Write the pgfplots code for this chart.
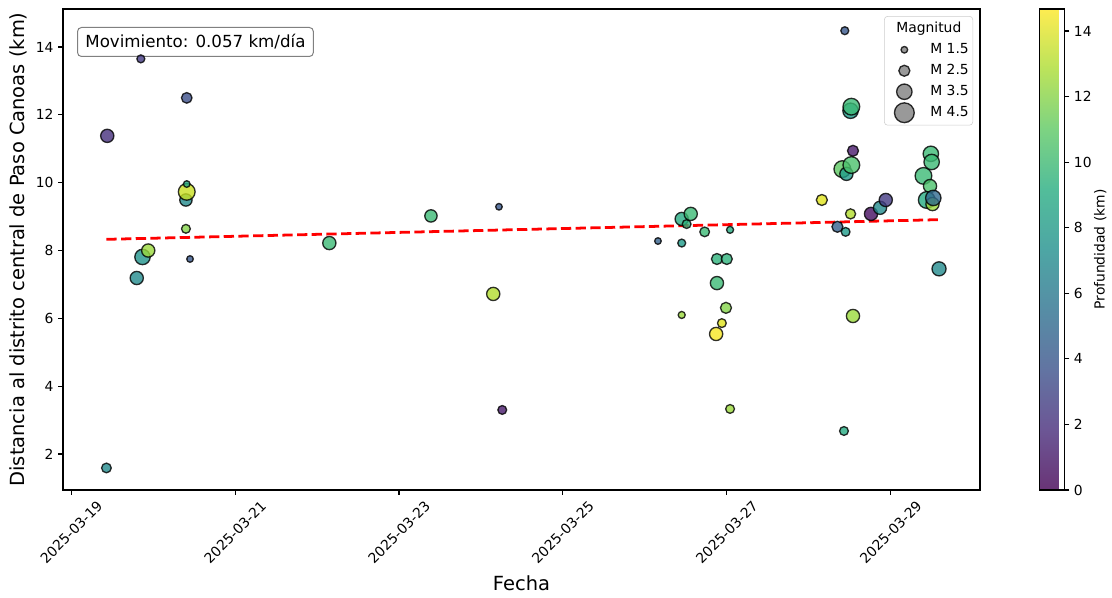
\documentclass[border=0pt]{standalone}
\usepackage{fontspec}
\setmainfont{DejaVu Sans}
\usepackage{pgfplots}
\pgfplotsset{compat=1.18}
\usepackage{pgfplotstable}

\pgfplotstableread{
day dist depth mag
0.43 1.59 7.0 2.2
0.44 11.38 2.0 3.0
0.80 7.19 7.0 3.0
0.85 13.65 2.5 1.8
0.87 7.81 7.5 3.5
0.94 8.00 12.5 3.0
1.40 9.49 7.0 2.8
1.41 9.73 13.5 3.8
1.41 9.96 9.0 1.5
1.40 8.64 12.0 2.0
1.41 12.50 3.5 2.4
1.45 7.75 4.0 1.5
3.15 8.22 10.0 3.0
4.39 9.02 10.0 2.8
5.15 6.72 13.0 3.0
5.22 9.29 4.0 1.5
5.26 3.30 1.0 2.0
7.16 8.28 4.5 1.5
7.45 8.22 8.0 1.8
7.45 6.10 12.5 1.6
7.45 8.93 9.0 3.0
7.51 8.78 9.5 2.0
7.56 9.08 10.0 3.0
7.73 8.55 10.0 2.2
7.87 5.54 14.5 3.0
7.88 7.75 9.5 2.5
7.88 7.04 10.0 3.0
7.94 5.86 14.0 2.0
7.99 6.31 12.0 2.5
8.00 7.75 9.5 2.5
8.04 8.61 9.0 1.6
8.04 3.33 12.5 2.0
9.16 9.49 14.0 2.5
9.35 8.70 4.5 2.5
9.43 2.68 9.0 2.0
9.44 14.48 4.0 1.8
9.45 8.55 8.0 2.0
9.41 10.40 11.0 3.8
9.46 10.26 8.0 3.0
9.51 12.12 8.0 3.5
9.52 12.24 10.0 3.8
9.54 10.94 1.0 2.5
9.52 10.52 10.5 3.8
9.51 9.08 13.0 2.3
9.54 6.07 12.5 3.0
9.76 9.08 0.5 3.0
9.87 9.26 7.0 3.0
9.94 9.49 2.5 3.0
10.40 10.20 10.0 3.8
10.48 9.90 10.5 3.0
10.49 10.85 10.0 3.5
10.50 10.61 10.0 3.5
10.44 9.49 9.0 3.8
10.51 9.37 12.5 3.0
10.52 9.55 5.0 3.5
10.59 7.46 7.0 3.2
}\quakes

\pgfplotsset{colormap={viridis80}{rgb255=(105,52,118) rgb255=(108,86,149) rgb255=(98,116,162) rgb255=(86,141,165) rgb255=(77,166,164) rgb255=(82,189,154) rgb255=(125,211,130) rgb255=(187,227,91) rgb255=(253,236,81)}}

\begin{document}
\begin{tikzpicture}
\begin{axis}[
  width=687.75pt, height=360.75pt, scale only axis,
  xmin=-0.1, xmax=11.09, ymin=0.94, ymax=15.12,
  xtick={0,2,4,6,8,10},
  xticklabels={2025-03-19,2025-03-21,2025-03-23,2025-03-25,2025-03-27,2025-03-29},
  ytick={2,4,...,14},
  tick align=outside, tick pos=left,
  major tick length=3.65pt,
  every tick/.style={black, line width=0.83pt},
  axis line style={line width=0.83pt},
  /pgf/number format/assume math mode=true,
  ticklabel style={font=\fontsize{10.4}{12}\selectfont},
  xticklabel style={yshift=-28pt, rotate=45, anchor=center},
  xlabel={Fecha},
  ylabel={Distancia al distrito central de Paso Canoas (km)},
  label style={font=\fontsize{14.6}{17}\selectfont},
  colormap/viridis,
  point meta min=0, point meta max=14.67,
  colorbar,
  colorbar style={
    at={(parent axis.north east)}, anchor=north west, xshift=36pt,
    width=18.75pt,
    colormap name=viridis80,
    ytick={0,2,...,14}, xtick=\empty,
    ytick pos=right, yticklabel pos=right,
    tick align=outside, major tick length=3.65pt,
    every tick/.style={black, line width=0.83pt},
    yticklabel style={font=\fontsize{10.4}{12}\selectfont},
    ylabel={Profundidad (km)},
    ylabel shift=-5pt,
    ylabel style={font=\fontsize{10.4}{12}\selectfont},
    axis line style={line width=0.83pt},
    /pgf/number format/assume math mode=true,
  },
  legend cell align=left,
  legend image code/.code={\path[draw=none, fill=none] (0pt,-4pt) rectangle (25pt,4pt); \draw[#1, overlay] plot coordinates {(12pt,0pt)};},
  legend style={at={(0.9924,0.9854)}, anchor=north east, draw=black!20, rounded corners=2.5pt,
    fill=white, fill opacity=0.8, text opacity=1, draw opacity=1,
    font=\fontsize{10.4}{12}\selectfont,
    inner xsep=3pt, inner ysep=1.5pt, column sep=6.5pt, row sep=0pt,
    nodes={inner xsep=0pt, inner ysep=2.97pt, text height=7.6pt, text depth=2.2pt}},
]
\addplot[scatter, only marks, mark=*, scatter src=explicit, forget plot,
  scatter/use mapped color={draw=black, draw opacity=0.8, fill=mapped color, fill opacity=0.8, line width=1pt},
  visualization depends on={1.65*\thisrow{mag} \as \msize},
  scatter/@pre marker code/.append style={/tikz/mark size=\msize}]
  table[x=day, y=dist, meta=depth] {\quakes};
\addplot[red, line width=2.08pt, dash pattern=on 7.7pt off 3.3pt, forget plot] coordinates {(0.43,8.33) (10.59,8.91)};

\addlegendimage{empty legend}
\addlegendentry{\hspace*{-25.5pt}Magnitud}
\addlegendimage{only marks, mark=*, mark size=2.47pt, mark options={fill=gray, fill opacity=0.8, draw=black, draw opacity=0.8, line width=1pt}}
\addlegendentry{M 1.5}
\addlegendimage{only marks, mark=*, mark size=4.12pt, mark options={fill=gray, fill opacity=0.8, draw=black, draw opacity=0.8, line width=1pt}}
\addlegendentry{M 2.5}
\addlegendimage{only marks, mark=*, mark size=5.77pt, mark options={fill=gray, fill opacity=0.8, draw=black, draw opacity=0.8, line width=1pt}}
\addlegendentry{M 3.5}
\addlegendimage{only marks, mark=*, mark size=7.41pt, mark options={fill=gray, fill opacity=0.8, draw=black, draw opacity=0.8, line width=1pt}}
\addlegendentry{M 4.5}

\node[draw=gray, line width=0.75pt, rounded corners=3pt, fill=white, anchor=north west,
  inner xsep=5.9pt, inner ysep=5.3pt, font=\fontsize{12.5}{15}\selectfont]
  at (rel axis cs:0.0153,0.9626) {Movimiento: 0.057 km/día};
\coordinate (bl) at (rel axis cs:0,0);
\coordinate (tr) at (rel axis cs:1,1);
\end{axis}
\pgfresetboundingbox
\path[use as bounding box] ([xshift=-47.25pt,yshift=-80.25pt]bl) rectangle ([xshift=99pt,yshift=6.75pt]tr);
\end{tikzpicture}
\end{document}
